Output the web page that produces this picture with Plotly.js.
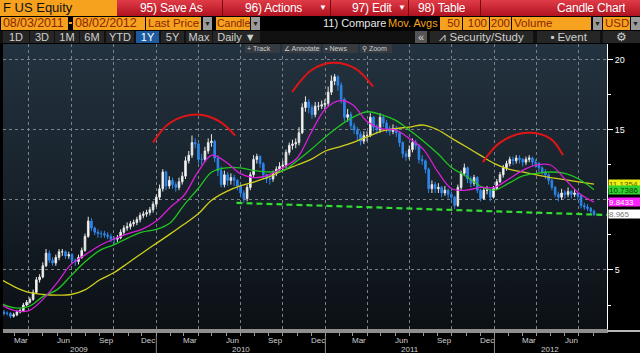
<!DOCTYPE html>
<html><head><meta charset="utf-8">
<script src="https://cdn.plot.ly/plotly-3.0.1.min.js"></script>
<style>
html,body{margin:0;padding:0;background:#000;}
body{width:640px;height:353px;overflow:hidden;position:relative;font-family:'Liberation Sans',Arial,sans-serif;}
.a{position:absolute;white-space:nowrap;overflow:hidden;box-sizing:border-box;}
.or{background:#f6a21e;color:#8a2600;font-size:11.5px;line-height:13px;padding-left:2px;}
.dt{font-size:12.5px;letter-spacing:-0.1px;}
.dd{background:#9a9a9a;color:#222;font-size:7px;line-height:13px;text-align:center;}
.rb{color:#fff;font-size:12px;line-height:16px;letter-spacing:-0.2px;}
.bt{background:#262626;color:#cfcfcf;font-size:11px;line-height:12px;text-align:center;}
.tb{background:#353b41;color:#cfcfcf;font-size:7px;line-height:9px;padding-left:2px;}
#bg{left:3px;top:44px;width:604px;height:285px;background:linear-gradient(to bottom,#243340 0%,#162029 55%,#0b1014 100%);}
#chart{left:0;top:43px;width:640px;height:310px;}
</style></head>
<body>
<!-- row 1 -->
<div class="a" style="left:0;top:0;width:117px;height:16px;background:#f6a21e;color:#111;font-size:13px;line-height:16px;padding-left:3px;">F US Equity</div>
<div class="a" style="left:117px;top:0;width:523px;height:16px;background:linear-gradient(to bottom,#e03c48,#b0121f);"></div>
<div class="a" style="left:222px;top:0;width:1px;height:16px;background:#7a0a12;"></div>
<div class="a" style="left:330px;top:0;width:1px;height:16px;background:#7a0a12;"></div>
<div class="a" style="left:408px;top:0;width:1px;height:16px;background:#7a0a12;"></div>
<div class="a" style="left:480px;top:0;width:1px;height:16px;background:#7a0a12;"></div>
<div class="a rb" style="left:140px;top:0;">95) Save As</div>
<div class="a rb" style="left:245px;top:0;">96) Actions</div>
<div class="a rb" style="left:319px;top:0;font-size:8px;">▼</div>
<div class="a rb" style="left:352px;top:0;">97) Edit</div>
<div class="a rb" style="left:398px;top:0;font-size:8px;">▼</div>
<div class="a rb" style="left:418px;top:0;">98) Table</div>
<div class="a rb" style="left:557px;top:0;">Candle Chart</div>
<!-- row 2 -->
<div class="a or dt" style="left:1px;top:17px;width:67px;height:13px;">08/03/2011</div>
<div class="a" style="left:69px;top:22px;width:3px;height:2px;background:#f6a21e;"></div>
<div class="a or dt" style="left:73px;top:17px;width:72px;height:13px;">08/02/2012</div>
<div class="a or" style="left:146px;top:17px;width:55px;height:13px;">Last Price</div>
<div class="a dd" style="left:203px;top:17px;width:9px;height:13px;">▼</div>
<div class="a or" style="left:216px;top:17px;width:34px;height:13px;font-size:10.5px;padding-left:1px;">Candle</div>
<div class="a dd" style="left:251px;top:17px;width:9px;height:13px;">▼</div>
<div class="a" style="left:323px;top:17px;color:#e8e8e8;font-size:11px;line-height:13px;">11) Compare</div>
<div class="a" style="left:388px;top:17px;color:#f6a21e;font-size:11px;line-height:13px;">Mov. Avgs</div>
<div class="a or" style="left:440px;top:17px;width:22px;height:13px;text-align:right;padding:0 2px 0 0;">50</div>
<div class="a or" style="left:463px;top:17px;width:26px;height:13px;text-align:right;padding:0 2px 0 0;">100</div>
<div class="a or" style="left:490px;top:17px;width:21px;height:13px;text-align:right;padding:0 1px 0 0;">200</div>
<div class="a or" style="left:512px;top:17px;width:79px;height:13px;">Volume</div>
<div class="a dd" style="left:593px;top:17px;width:9px;height:13px;">▼</div>
<div class="a or" style="left:603px;top:17px;width:27px;height:13px;">USD</div>
<div class="a dd" style="left:631px;top:17px;width:9px;height:13px;">▼</div>
<!-- row 3 -->
<div class="a" style="left:0;top:31px;width:640px;height:12px;background:#111;"></div>
<div class="a bt" style="left:3px;top:31px;width:26px;height:12px;">1D</div>
<div class="a bt" style="left:30px;top:31px;width:24px;height:12px;">3D</div>
<div class="a bt" style="left:55px;top:31px;width:24px;height:12px;">1M</div>
<div class="a bt" style="left:80px;top:31px;width:24px;height:12px;">6M</div>
<div class="a bt" style="left:106px;top:31px;width:28px;height:12px;">YTD</div>
<div class="a bt" style="left:136px;top:31px;width:23px;height:12px;background:#1d5b9e;color:#fff;">1Y</div>
<div class="a bt" style="left:161px;top:31px;width:23px;height:12px;">5Y</div>
<div class="a bt" style="left:186px;top:31px;width:26px;height:12px;">Max</div>
<div class="a bt" style="left:213px;top:31px;width:47px;height:12px;">Daily ▼</div>
<div class="a bt" style="left:415px;top:31px;width:12px;height:12px;background:#555;color:#ddd;">«</div>
<div class="a bt" style="left:430px;top:31px;width:103px;height:12px;font-size:11.5px;">⩘ Security/Study</div>
<div class="a bt" style="left:537px;top:31px;width:63px;height:12px;font-size:11.5px;">▪ Event</div>
<div class="a bt" style="left:603px;top:31px;width:37px;height:12px;font-size:11.5px;">⚙</div>
<!-- plot background and chart -->
<div class="a" id="bg"></div>
<div class="a" id="chart"></div>
<!-- plot toolbar -->
<div class="a tb" style="left:245px;top:44px;width:35px;height:9px;">+ Track</div>
<div class="a tb" style="left:282px;top:44px;width:39px;height:9px;">∠ Annotate</div>
<div class="a tb" style="left:323px;top:44px;width:35px;height:9px;">▪ News</div>
<div class="a tb" style="left:360px;top:44px;width:32px;height:9px;">⚲ Zoom</div>
<script>
// ---- weekly candles (Friday of each week) ----
const candleFirstDate = '2009-02-06';
const candleOpen = [
2.0,1.9,1.9,1.7,1.8,2.0,2.1,2.5,2.7,2.9,
3.4,4.3,4.5,5.3,6.2,5.7,5.5,5.9,6.3,6.3,
6.0,6.1,5.7,5.6,5.9,6.4,7.4,8.5,8.0,7.7,
7.6,7.6,7.5,7.4,7.2,7.2,7.3,7.7,8.0,8.1,
8.3,8.4,8.6,8.9,9.0,9.1,9.3,9.7,10.2,10.8,
12.0,11.0,11.4,11.1,10.9,11.3,11.7,12.8,13.2,14.1,
14.0,12.9,12.9,13.5,14.1,14.2,13.0,12.1,11.1,11.8,
11.4,11.6,11.4,11.0,10.5,10.1,10.9,11.8,12.9,13.1,
12.6,11.8,11.5,11.5,11.9,12.2,12.4,12.5,13.4,13.9,
14.0,14.1,14.8,16.6,17.0,16.6,16.1,16.7,16.7,16.8,
16.9,17.7,18.5,18.8,18.2,17.2,15.9,16.1,15.3,15.0,
14.7,14.2,14.6,14.6,15.9,15.2,15.0,15.9,15.5,15.1,
14.9,15.1,14.8,14.1,13.3,13.1,13.6,14.1,13.9,12.9,
12.8,12.2,10.8,11.1,10.8,10.9,10.5,10.7,10.4,10.2,
9.6,10.9,11.9,12.3,11.5,11.2,11.6,10.7,10.1,10.7,
10.7,10.2,10.8,11.3,11.8,12.3,12.6,12.9,12.8,13.0,
12.9,12.7,12.9,13.0,12.7,12.6,12.3,12.0,11.8,11.4,
10.9,10.4,10.2,10.5,10.4,10.6,10.4,10.5,10.3,9.6,
9.5,9.4,9.2];
const candleHigh = [
2.15,2.05,2.0,1.95,2.15,2.25,2.65,2.85,3.05,3.6,
4.5,4.7,5.55,6.5,6.4,5.9,6.1,6.5,6.5,6.4,
6.3,6.2,5.8,6.1,6.6,7.6,8.8,8.7,8.1,7.9,
7.8,7.8,7.7,7.6,7.4,7.5,7.9,8.2,8.4,8.5,
8.6,8.8,9.1,9.2,9.3,9.5,9.9,10.4,11.1,12.2,
12.1,11.7,11.6,11.3,11.6,12.0,13.1,13.5,14.6,14.4,
14.1,13.3,13.8,14.4,14.7,14.3,13.2,12.4,12.1,12.0,
11.9,11.8,11.5,11.1,10.7,11.1,12.0,13.2,13.3,13.2,
12.7,11.9,11.8,12.1,12.4,12.7,12.8,13.6,14.1,14.3,
14.4,15.2,16.9,17.4,17.2,16.8,17.0,17.0,17.1,17.2,
18.1,18.9,19.0,18.9,18.4,17.3,16.5,16.3,15.5,15.2,
14.9,14.9,14.9,16.2,16.0,15.4,16.2,16.1,15.7,15.3,
15.4,15.3,14.9,14.2,13.5,13.9,14.4,14.3,14.0,13.2,
12.9,12.3,11.4,11.3,11.2,11.0,11.0,10.8,10.6,10.3,
11.1,12.1,12.6,12.4,11.7,11.8,11.7,10.8,10.9,11.0,
10.8,11.0,11.5,12.0,12.5,12.8,13.1,13.1,13.2,13.2,
13.0,13.1,13.2,13.1,12.9,12.7,12.4,12.2,11.9,11.5,
11.0,10.6,10.8,10.7,10.9,10.7,10.8,10.6,10.4,9.8,
9.7,9.5,9.3];
const candleLow = [
1.75,1.75,1.55,1.6,1.7,1.9,2.0,2.4,2.6,2.8,
3.3,4.1,4.4,5.2,5.5,5.3,5.3,5.7,6.0,5.8,
5.8,5.5,5.3,5.4,5.8,6.3,7.3,7.8,7.5,7.3,
7.3,7.3,7.2,7.0,6.9,7.0,7.2,7.5,7.8,7.9,
8.1,8.2,8.4,8.7,8.8,8.9,9.1,9.5,10.0,10.6,
10.7,10.8,10.8,10.6,10.7,11.1,11.5,12.6,13.0,13.7,
12.6,12.5,12.7,13.3,13.8,12.7,11.7,10.9,10.9,11.0,
11.1,11.0,10.7,10.2,9.8,9.9,10.7,11.6,12.6,12.3,
11.5,11.2,11.1,11.3,11.7,12.0,12.1,12.3,13.2,13.6,
13.7,13.9,14.7,16.3,16.2,15.8,15.9,16.4,16.5,16.5,
16.7,17.5,18.2,17.8,16.9,15.6,15.6,15.0,14.7,14.3,
13.9,14.0,14.2,14.5,14.9,14.7,14.8,15.2,14.8,14.6,
14.7,14.5,13.8,13.0,12.8,12.9,13.4,13.6,12.6,12.5,
11.9,10.5,10.5,10.5,10.5,10.2,10.3,10.1,9.9,9.35,
9.5,10.7,11.7,11.2,10.9,11.0,10.5,9.9,10.0,10.4,
9.9,10.1,10.7,11.2,11.6,12.1,12.4,12.5,12.6,12.6,
12.4,12.5,12.7,12.4,12.3,12.0,11.8,11.5,11.1,10.7,
10.2,9.9,10.0,10.1,10.2,10.1,10.2,10.0,9.4,9.3,
9.2,9.0,8.85];
const candleClose = [
1.9,1.9,1.7,1.8,2.0,2.1,2.5,2.7,2.9,3.4,
4.3,4.5,5.3,6.2,5.7,5.5,5.9,6.3,6.3,6.0,
6.1,5.7,5.6,5.9,6.4,7.4,8.5,8.0,7.7,7.6,
7.6,7.5,7.4,7.2,7.2,7.3,7.7,8.0,8.1,8.3,
8.4,8.6,8.9,9.0,9.1,9.3,9.7,10.2,10.8,12.0,
11.0,11.4,11.1,10.9,11.3,11.7,12.8,13.2,14.1,14.0,
12.9,12.9,13.5,14.1,14.2,13.0,12.1,11.1,11.8,11.4,
11.6,11.4,11.0,10.5,10.1,10.9,11.8,12.9,13.1,12.6,
11.8,11.5,11.5,11.9,12.2,12.4,12.5,13.4,13.9,14.0,
14.1,14.8,16.6,17.0,16.6,16.1,16.7,16.7,16.8,16.9,
17.7,18.5,18.8,18.2,17.2,15.9,16.1,15.3,15.0,14.7,
14.2,14.6,14.6,15.9,15.2,15.0,15.9,15.5,15.1,14.9,
15.1,14.8,14.1,13.3,13.1,13.6,14.1,13.9,12.9,12.8,
12.2,10.8,11.1,10.8,10.9,10.5,10.7,10.4,10.2,9.6,
10.9,11.9,12.3,11.5,11.2,11.6,10.7,10.1,10.7,10.7,
10.2,10.8,11.3,11.8,12.3,12.6,12.9,12.8,13.0,12.9,
12.7,12.9,13.0,12.7,12.6,12.3,12.0,11.8,11.4,10.9,
10.4,10.2,10.5,10.4,10.6,10.4,10.5,10.3,9.6,9.5,
9.4,9.2,8.965];

// ---- moving averages, read monthly ----
const maDates = [
'2009-02-01','2009-03-01','2009-04-01','2009-05-01','2009-06-01','2009-07-01','2009-08-01','2009-09-01','2009-10-01','2009-11-01','2009-12-01',
'2010-01-01','2010-02-01','2010-03-01','2010-04-01','2010-05-01','2010-06-01','2010-07-01','2010-08-01','2010-09-01','2010-10-01','2010-11-01','2010-12-01',
'2011-01-01','2011-02-01','2011-03-01','2011-04-01','2011-05-01','2011-06-01','2011-07-01','2011-08-01','2011-09-01','2011-10-01','2011-11-01','2011-12-01',
'2012-01-01','2012-02-01','2012-03-01','2012-04-01','2012-05-01','2012-06-01','2012-07-01','2012-08-03'];
const ma200 = [4.3,3.8,3.4,3.25,3.2,3.25,3.6,4.3,4.8,5.5,6.2,
 6.9,7.6,8.25,9.0,10.0,10.6,11.0,11.3,11.65,12.1,12.5,12.9,
 13.5,13.8,14.1,14.5,14.9,15.1,15.2,15.35,15.0,14.4,13.8,13.2,
 12.6,12.2,12.0,11.8,11.6,11.45,11.3,11.1354];
const ma100 = [2.6,2.3,2.4,3.1,3.6,4.6,5.6,6.4,6.8,7.3,7.7,
 7.9,8.4,9.6,10.8,12.0,12.3,12.3,12.1,12.0,12.1,12.8,13.6,
 14.5,15.3,15.9,16.3,16.1,15.7,15.0,14.2,13.3,12.3,11.7,11.0,
 10.7,11.2,11.7,11.9,12.0,11.9,11.5,10.7386];
const ma50 = [2.5,2.1,2.1,2.9,4.1,5.4,6.1,6.75,7.2,7.6,7.9,
 8.5,9.5,10.3,12.0,13.2,12.7,11.9,11.6,11.8,12.3,13.0,14.8,
 16.5,17.1,16.8,15.6,15.1,15.0,14.4,13.6,12.0,10.8,10.7,10.9,
 10.9,11.5,12.1,12.5,12.5,11.5,10.5,9.8433];

// ---- drawn annotations (head-and-shoulders arcs, neckline) ----
const arc1Dates = ['2009-12-25','2010-01-30','2010-03-30','2010-05-18','2010-06-20'];
const arc1Vals  = [14.1,15.5,16.1,15.6,14.6];
const arc2Dates = ['2010-10-21','2010-12-03','2011-01-17','2011-03-06','2011-04-14'];
const arc2Vals  = [17.7,19.3,19.8,19.4,18.1];
const arc3Dates = ['2011-12-07','2012-01-13','2012-03-11','2012-04-30','2012-05-28'];
const arc3Vals  = [12.7,14.1,14.8,14.4,13.2];
const neckDates = ['2010-06-23','2012-08-31'];
const neckVals  = [9.79,8.93];

// ---- axis labels ----
const yTickVals = [5,10,15,20];
const yTickText = ['5','','15','20'];   // "10" sits under the last-value boxes
const monthLabelDates = ['2009-03-15','2009-06-15','2009-09-15','2009-12-15','2010-03-15','2010-06-15','2010-09-15','2010-12-15','2011-03-15','2011-06-15','2011-09-15','2011-12-15','2012-03-15','2012-06-15'];
const monthLabelText = ['Mar','Jun','Sep','Dec','Mar','Jun','Sep','Dec','Mar','Jun','Sep','Dec','Mar','Jun'];
const yearLabelDates = ['2009-07-18','2010-07-02','2011-07-02','2012-05-01'];
const yearLabelText = ['2009','2010','2011','2012'];
const yearBoundaries = ['2010-01-01','2011-01-01','2012-01-01'];
const xRange = ['2009-02-04','2012-08-31'];
const yRange = [0.786,21.14];

const lastLabels = [
  {v: ma200[ma200.length-1], t: '11.1354', bg:'#eeee10', fg:'#5a5a00'},
  {v: ma100[ma100.length-1], t: '10.7386', bg:'#2fd42f', fg:'#0b3d0b'},
  {v: ma50[ma50.length-1],   t: '9.8433',  bg:'#ff20ff', fg:'#ffffff'},
  {v: candleClose[candleClose.length-1], t: '8.965', bg:'#ffffff', fg:'#777777'}
];

// weekly dates
const candleDates = [];
(function(){
  const p = candleFirstDate.split('-').map(Number);
  const t0 = Date.UTC(p[0], p[1]-1, p[2]);
  for (let i=0;i<candleClose.length;i++){
    candleDates.push(new Date(t0 + i*7*86400000).toISOString().slice(0,10));
  }
})();

const traces = [
 {type:'candlestick', x:candleDates, open:candleOpen, high:candleHigh, low:candleLow, close:candleClose,
  increasing:{line:{color:'#e6e6e6',width:1}, fillcolor:'#ffffff'},
  decreasing:{line:{color:'#2e86e8',width:1}, fillcolor:'#2e86e8'},
  whiskerwidth:0, hoverinfo:'skip', showlegend:false},
 {type:'scatter', mode:'lines', x:maDates, y:ma200, line:{color:'#cfcf1c',width:1.3,shape:'spline'}, hoverinfo:'skip', showlegend:false},
 {type:'scatter', mode:'lines', x:maDates, y:ma100, line:{color:'#22c422',width:1.3,shape:'spline'}, hoverinfo:'skip', showlegend:false},
 {type:'scatter', mode:'lines', x:maDates, y:ma50,  line:{color:'#d81ed8',width:1.3,shape:'spline'}, hoverinfo:'skip', showlegend:false},
 {type:'scatter', mode:'lines', x:neckDates, y:neckVals, line:{color:'#33dd33',width:2.2,dash:'6px,4px'}, hoverinfo:'skip', showlegend:false},
 {type:'scatter', mode:'lines', x:arc1Dates, y:arc1Vals, line:{color:'#e01414',width:2,shape:'spline'}, hoverinfo:'skip', showlegend:false},
 {type:'scatter', mode:'lines', x:arc2Dates, y:arc2Vals, line:{color:'#e01414',width:2,shape:'spline'}, hoverinfo:'skip', showlegend:false},
 {type:'scatter', mode:'lines', x:arc3Dates, y:arc3Vals, line:{color:'#e01414',width:2,shape:'spline'}, hoverinfo:'skip', showlegend:false}
];

const annotations = [];
monthLabelDates.forEach((d,i)=>annotations.push({x:d, xref:'x', y:0, yref:'paper', yanchor:'top', yshift:-5, text:monthLabelText[i], showarrow:false, font:{size:8, color:'#d0d0d0', family:'Liberation Sans, Arial, sans-serif'}}));
yearLabelDates.forEach((d,i)=>annotations.push({x:d, xref:'x', y:0, yref:'paper', yanchor:'top', yshift:-14, text:yearLabelText[i], showarrow:false, font:{size:8, color:'#d0d0d0', family:'Liberation Sans, Arial, sans-serif'}}));
lastLabels.forEach(o=>annotations.push({x:1, xref:'paper', xanchor:'left', xshift:1, y:o.v, yref:'y', text:o.t, showarrow:false, bgcolor:o.bg, font:{size:8, color:o.fg, family:'Liberation Sans, Arial, sans-serif'}, width:32, height:8, borderpad:0, align:'left'}));

const shapes = [];
yearBoundaries.forEach(d=>shapes.push({type:'line', xref:'x', yref:'paper', x0:d, x1:d, ysizemode:'pixel', yanchor:0, y0:-6, y1:-24, line:{color:'#8a8a8a', width:1}}));
shapes.push({type:'rect', xref:'paper', yref:'paper', x0:1, x1:1.06, ysizemode:'pixel', yanchor:0, y0:-1, y1:-3, fillcolor:'#b8b8b8', line:{width:0}});

const gridCol = '#7b8188';
const layout = {
  width:640, height:310,
  margin:{l:3, r:33, t:1, b:24, pad:0},
  paper_bgcolor:'rgba(0,0,0,0)', plot_bgcolor:'rgba(0,0,0,0)',
  showlegend:false,
  xaxis:{type:'date', range:xRange, tickmode:'linear', tick0:'2009-01-01', dtick:'M3',
    showgrid:true, gridcolor:gridCol, griddash:'dot', gridwidth:1,
    showticklabels:false, ticks:'outside', ticklen:3, tickcolor:'#9a9a9a',
    minor:{dtick:'M1', tick0:'2009-01-01', ticks:'outside', ticklen:3, tickcolor:'#9a9a9a', showgrid:false},
    showline:true, linecolor:'#8e8e8e', linewidth:4, zeroline:false,
    rangeslider:{visible:false}, fixedrange:true},
  yaxis:{side:'right', range:yRange, tickmode:'array', tickvals:yTickVals, ticktext:yTickText,
    showgrid:true, gridcolor:gridCol, griddash:'dot', gridwidth:1,
    ticks:'outside', ticklen:5, tickcolor:'#ffffff',
    minor:{dtick:2.5, tick0:0, ticks:'outside', ticklen:3, tickcolor:'#ffffff', showgrid:false},
    showline:true, linecolor:'#ffffff', linewidth:1, zeroline:false,
    tickfont:{size:9, color:'#ffffff', family:'Liberation Sans, Arial, sans-serif'}, fixedrange:true},
  annotations:annotations,
  shapes:shapes
};
Plotly.newPlot('chart', traces, layout, {staticPlot:true, displayModeBar:false});
</script>
</body></html>
